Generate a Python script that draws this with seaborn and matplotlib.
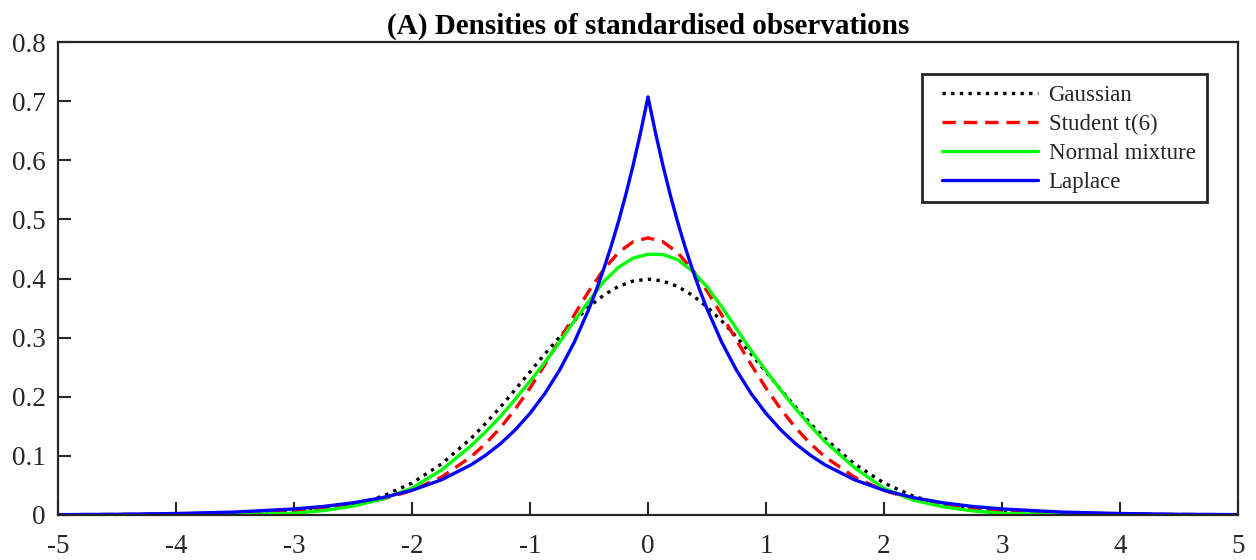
import numpy as np
import pandas as pd
import matplotlib
matplotlib.use("Agg")
import matplotlib.pyplot as plt
from matplotlib.patches import Rectangle
import seaborn as sns

# ---- data ----
x_vals = [-5, -4.5, -4, -3.5, -3, -2.75, -2.5, -2.25, -2, -1.75, -1.5, -1.375, -1.25,
          -1.125, -1, -0.875, -0.75, -0.625, -0.5, -0.375, -0.25, -0.125, 0,
          0.125, 0.25, 0.375, 0.5, 0.625, 0.75, 0.875, 1, 1.125, 1.25, 1.375, 1.5,
          1.75, 2, 2.25, 2.5, 2.75, 3, 3.5, 4, 4.5, 5]

gaussian = [0.0000, 0.0000, 0.0001, 0.0009, 0.0044, 0.0091, 0.0175, 0.0317, 0.0540, 0.0863,
            0.1295, 0.1551, 0.1826, 0.2121, 0.2420, 0.2721, 0.3011, 0.3282, 0.3521, 0.3719,
            0.3867, 0.3958, 0.3989,
            0.3958, 0.3867, 0.3719, 0.3521, 0.3282, 0.3011, 0.2721, 0.2420, 0.2121, 0.1826,
            0.1551, 0.1295, 0.0863, 0.0540, 0.0317, 0.0175, 0.0091, 0.0044, 0.0009, 0.0001,
            0.0000, 0.0000]

student_t6 = [0.0005, 0.0009, 0.0017, 0.0035, 0.0076, 0.0114, 0.0174, 0.0268, 0.0414, 0.0641,
              0.0983, 0.1209, 0.1478, 0.1791, 0.2147, 0.2540, 0.2957, 0.3383, 0.3791, 0.4153,
              0.4440, 0.4623, 0.4687,
              0.4623, 0.4440, 0.4153, 0.3791, 0.3383, 0.2957, 0.2540, 0.2147, 0.1791, 0.1478,
              0.1209, 0.0983, 0.0641, 0.0414, 0.0268, 0.0174, 0.0114, 0.0076, 0.0035, 0.0017,
              0.0009, 0.0005]

normal_mixture = [0.0000, 0.0000, 0.0001, 0.0006, 0.0030, 0.0075, 0.0150, 0.0270, 0.0455, 0.0760,
                  0.1170, 0.1410, 0.1665, 0.1960, 0.2260, 0.2580, 0.2920, 0.3280, 0.3620, 0.3950,
                  0.4190, 0.4345, 0.4410,
                  0.4405, 0.4320, 0.4130, 0.3860, 0.3520, 0.3150, 0.2780, 0.2440, 0.2110, 0.1800,
                  0.1510, 0.1240, 0.0800, 0.0450, 0.0250, 0.0140, 0.0070, 0.0030, 0.0006, 0.0001,
                  0.0000, 0.0000]

laplace_x = [-5, -4.5, -4, -3.5, -3, -2.75, -2.5, -2.25, -2, -1.75, -1.5, -1.375, -1.25,
             -1.125, -1, -0.875, -0.75, -0.625,
             -0.5, -0.4375, -0.375, -0.3125, -0.25, -0.1875, -0.125, -0.0625, 0,
             0.0625, 0.125, 0.1875, 0.25, 0.3125, 0.375, 0.4375, 0.5, 0.625, 0.75, 0.875,
             1, 1.125, 1.25, 1.375, 1.5, 1.75, 2, 2.25, 2.5, 2.75, 3, 3.5, 4, 4.5, 5]
laplace = [0.0006, 0.0012, 0.0025, 0.0050, 0.0102, 0.0145, 0.0206, 0.0293, 0.0418, 0.0595,
           0.0848, 0.1012, 0.1207, 0.1440, 0.1719, 0.2051, 0.2448, 0.2922,
           0.3487, 0.3809, 0.4161, 0.4545, 0.4964, 0.5424, 0.5925, 0.6473, 0.7071,
           0.6473, 0.5925, 0.5424, 0.4964, 0.4545, 0.4161, 0.3809, 0.3487, 0.2922, 0.2448,
           0.2051, 0.1719, 0.1440, 0.1207, 0.1012, 0.0848, 0.0595, 0.0418, 0.0293, 0.0206,
           0.0145, 0.0102, 0.0050, 0.0025, 0.0012, 0.0006]

series_names = ["Gaussian", "Student t(6)", "Normal mixture", "Laplace"]
x_ticks = [-5, -4, -3, -2, -1, 0, 1, 2, 3, 4, 5]
x_tick_labels = ["-5", "-4", "-3", "-2", "-1", "0", "1", "2", "3", "4", "5"]
y_ticks = [0, 0.1, 0.2, 0.3, 0.4, 0.5, 0.6, 0.7, 0.8]
y_tick_labels = ["0", "0.1", "0.2", "0.3", "0.4", "0.5", "0.6", "0.7", "0.8"]
title = "(A) Densities of standardised observations"

# ---- build frame ----
series_x = [x_vals, x_vals, x_vals, laplace_x]
series_y = [gaussian, student_t6, normal_mixture, laplace]
frames = []
for name, xs, ys in zip(series_names, series_x, series_y):
    frames.append(pd.DataFrame({"x": xs, "density": ys, "series": name}))
df = pd.concat(frames, ignore_index=True)

sns.set_theme(style="white")
plt.rcParams["font.family"] = ["Liberation Serif", "DejaVu Serif"]

fig = plt.figure(figsize=(12.56, 5.6), dpi=100)
ax = fig.add_axes([58 / 1256, 45 / 560, 1180 / 1256, 473 / 560])

styles = {
    "Gaussian": dict(color="black", dashes=(1.0, 1.6)),
    "Student t(6)": dict(color="#ff0000", dashes=(4.0, 2.4)),
    "Normal mixture": dict(color="#00ff00"),
    "Laplace": dict(color="#0000ff"),
}
lw = 2.4
for name in series_names:
    sub = df[df["series"] == name]
    st = styles[name]
    kw = dict(color=st["color"], linewidth=lw, label=name)
    if "dashes" in st:
        kw["dashes"] = st["dashes"]
        kw["dash_capstyle"] = "butt"
    sns.lineplot(data=sub, x="x", y="density", ax=ax, estimator=None, sort=False, **kw)

ax.set_xlim(-5, 5)
ax.set_ylim(0, 0.8)
ax.set_xticks(x_ticks)
ax.set_xticklabels(x_tick_labels)
ax.set_yticks(y_ticks)
ax.set_yticklabels(y_tick_labels)
ax.set_xlabel("")
ax.set_ylabel("")
ax.tick_params(axis="both", direction="in", length=9.5, width=1.5, colors="#262626",
               labelsize=19.5, labelcolor="#262626", bottom=True, left=True, top=False, right=False)
ax.tick_params(axis="x", pad=14)
ax.tick_params(axis="y", pad=9)
for sp in ax.spines.values():
    sp.set_visible(True)
    sp.set_color("#262626")
    sp.set_linewidth(1.6)

ax.set_title(title, fontsize=21, fontweight="bold", pad=6, color="black")

# legend frame drawn as its own box, entries placed inside it
x0 = (922 - 58) / 1180
x1 = (1207 - 58) / 1180
y0 = (515 - 202) / 473
y1 = (515 - 74) / 473
ax.add_patch(Rectangle((x0, y0), x1 - x0, y1 - y0, transform=ax.transAxes,
                       facecolor="white", edgecolor="#262626", linewidth=2.0, zorder=4))
leg = ax.legend(loc="upper left", bbox_to_anchor=((942 - 58) / 1180, (515 - 85) / 473),
                borderaxespad=0, borderpad=0, fontsize=16.5, frameon=False,
                handlelength=4.2, handletextpad=0.45, labelspacing=0.34)
leg.set_zorder(5)
for t in leg.get_texts():
    t.set_color("#262626")

fig.savefig("out.png", dpi=100, facecolor="white")
